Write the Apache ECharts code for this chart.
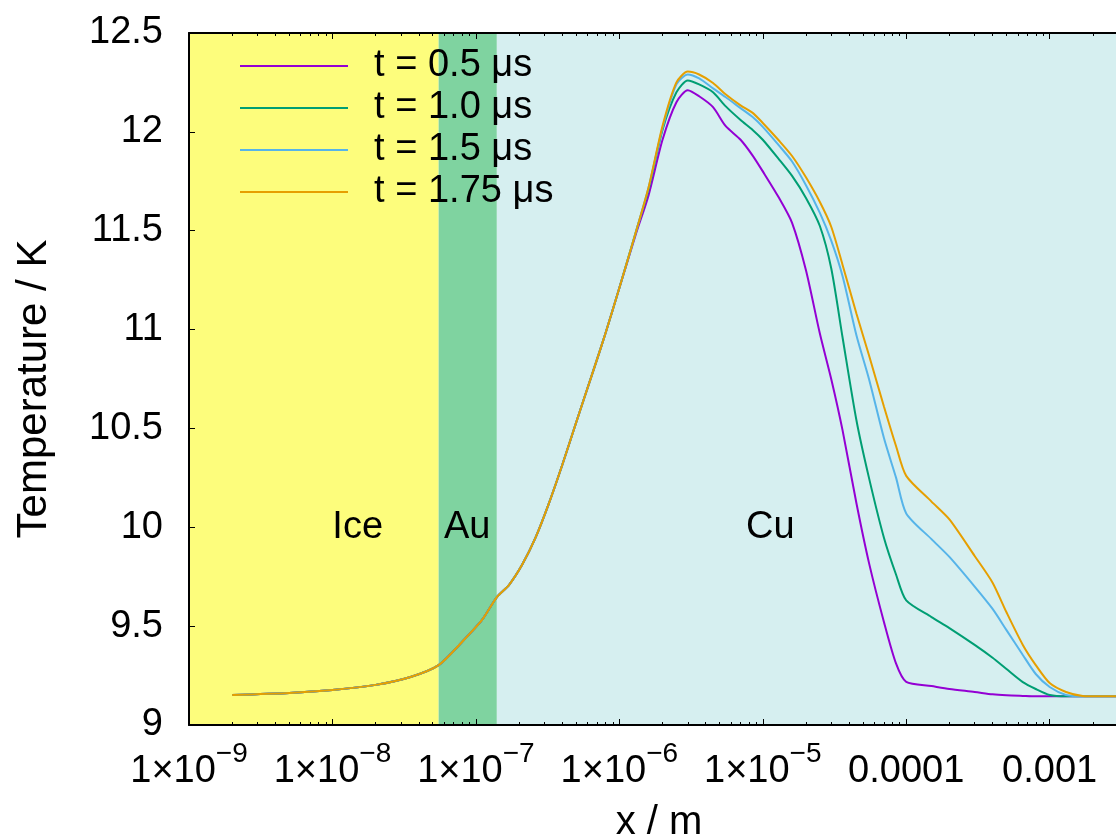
<!DOCTYPE html>
<html>
<head>
<meta charset="utf-8">
<title>Temperature profile</title>
<script src="https://cdn.jsdelivr.net/npm/echarts@6.0.0/dist/echarts.min.js"></script>
<style>
    html, body { margin: 0; padding: 0; background: #fff; }
    #chart { width: 1116px; height: 839px; }
</style>
</head>
<body>
<div id="chart"></div>
<script>
// position x / m (shared by all four profiles)
var xs = [2e-9, 5e-9, 1e-8, 2e-8, 3.5e-8, 5.5e-8, 8e-8, 1.1e-7, 1.4e-7, 1.7e-7,
    2.1e-7, 2.6e-7, 3.2e-7, 4e-7, 5e-7, 6.5e-7, 8e-7, 1e-6, 1.3e-6, 1.6e-6,
    2e-6, 2.5e-6, 3e-6, 3.6e-6, 4.5e-6, 5.5e-6, 7e-6, 8.5e-6, 1e-5, 1.3e-5,
    1.6e-5, 2e-5, 2.5e-5, 3e-5, 3.6e-5, 4.5e-5, 5.5e-5, 7e-5, 8.5e-5, 1e-4,
    1.5e-4, 2e-4, 3e-4, 4e-4, 5e-4, 6.5e-4, 8e-4, 1e-3, 1.3e-3, 1.7e-3,
    2.2e-3, 3e-3];

// temperature at xs
var t05 = [9.152, 9.162, 9.177, 9.203, 9.243, 9.303, 9.42, 9.53, 9.647, 9.708,
    9.81, 9.946, 10.113, 10.315, 10.53, 10.78, 10.98, 11.21, 11.48, 11.68,
    11.96, 12.15, 12.21, 12.18, 12.125, 12.03, 11.96, 11.88, 11.80, 11.665,
    11.54, 11.30, 10.98, 10.75, 10.49, 10.12, 9.82, 9.52, 9.31, 9.218,
    9.197, 9.182, 9.167, 9.155, 9.15, 9.147, 9.145, 9.145, 9.145, 9.145,
    9.145, 9.145];
var t10 = [9.152, 9.162, 9.177, 9.203, 9.243, 9.303, 9.42, 9.53, 9.647, 9.708,
    9.81, 9.946, 10.113, 10.315, 10.53, 10.78, 10.98, 11.21, 11.49, 11.71,
    12.01, 12.20, 12.26, 12.24, 12.20, 12.13, 12.06, 12.01, 11.96, 11.86,
    11.777, 11.666, 11.524, 11.31, 10.96, 10.54, 10.25, 9.946, 9.76, 9.63,
    9.546, 9.49, 9.405, 9.34, 9.283, 9.217, 9.182, 9.152, 9.145, 9.145,
    9.145, 9.145];
var t15 = [9.152, 9.162, 9.177, 9.203, 9.243, 9.303, 9.42, 9.53, 9.647, 9.708,
    9.81, 9.946, 10.113, 10.315, 10.53, 10.78, 10.98, 11.21, 11.49, 11.72,
    12.02, 12.24, 12.29, 12.27, 12.22, 12.176, 12.12, 12.075, 12.025, 11.93,
    11.85, 11.73, 11.59, 11.45, 11.27, 10.97, 10.75, 10.45, 10.25, 10.07,
    9.94, 9.85, 9.70, 9.587, 9.48, 9.354, 9.258, 9.192, 9.152, 9.145,
    9.145, 9.145];
var t175 = [9.152, 9.162, 9.177, 9.203, 9.243, 9.303, 9.42, 9.53, 9.647, 9.708,
    9.81, 9.946, 10.113, 10.315, 10.53, 10.78, 10.98, 11.21, 11.49, 11.72,
    12.03, 12.25, 12.305, 12.29, 12.247, 12.19, 12.134, 12.096, 12.045, 11.955,
    11.878, 11.77, 11.645, 11.52, 11.327, 11.08, 10.87, 10.61, 10.41, 10.26,
    10.13, 10.04, 9.855, 9.72, 9.57, 9.405, 9.303, 9.212, 9.167, 9.147,
    9.145, 9.145];

var names = ['t = 0.5 μs', 't = 1.0 μs', 't = 1.5 μs', 't = 1.75 μs'];

// material layers (x / m) and where their names sit
var layerNames = ['Ice', 'Au', 'Cu'];
var layerEdges = [1e-9, 5.5e-8, 1.4e-7, 2.9e-3];
var layerLabelX = [1.5e-8, 8.7e-8, 1.13e-5];
var layerLabelT = 10;

var lineColors = ['#9400d3', '#009e73', '#56b4e9', '#e69f00'];
var layerColors = ['#fdfd7c', '#7fd3a0', '#d6eff0'];
var font = 'Liberation Sans';

function xLabel(v) {
    var p = Math.log10(v), e = Math.round(p);
    if (Math.abs(p - e) > 1e-6) return '';
    if (e >= -4) return '{m|' + Math.pow(10, e).toFixed(-e) + '}';
    return '{m|1×10}{s|\u2212' + (-e) + '}';
}

var chart = echarts.init(document.getElementById('chart'));

var axisLine = {onZero: false, lineStyle: {color: '#000', width: 2}};
var axisTick = {show: true, inside: true, length: 6, lineStyle: {color: '#000', width: 1}};
var minorTick = {show: true, splitNumber: 9, length: 3, lineStyle: {color: '#000', width: 1}};

var series = [t05, t10, t15, t175].map(function (ys, k) {
    var s = {
        name: names[k],
        type: 'line',
        symbol: 'none',
        smooth: 0.25,
        color: lineColors[k],
        lineStyle: {width: 2, color: lineColors[k]},
        z: 3,
        data: xs.map(function (x, i) { return [x, ys[i]]; })
    };
    if (k === 0) {
        s.markArea = {
            silent: true,
            z: 1,
            data: layerNames.map(function (n, i) {
                return [
                    {xAxis: layerEdges[i], itemStyle: {color: layerColors[i], opacity: 1}},
                    {xAxis: layerEdges[i + 1]}
                ];
            })
        };
        s.markPoint = {
            silent: true,
            symbol: 'circle',
            symbolSize: 0,
            label: {
                show: true,
                position: 'inside',
                formatter: '{b}',
                color: '#000',
                fontSize: 38,
                fontFamily: font
            },
            data: layerNames.map(function (n, i) {
                return {name: n, coord: [layerLabelX[i], layerLabelT]};
            })
        };
    }
    return s;
});

var option = {
    animation: false,
    backgroundColor: '#fff',
    grid: {left: 189, top: 33, right: 0, bottom: 114, outerBoundsMode: 'none', containLabel: false},
    legend: {
        data: names,
        orient: 'vertical',
        left: 235,
        top: 42,
        icon: 'rect',
        itemWidth: 108,
        itemHeight: 2,
        itemGap: 4,
        selectedMode: false,
        formatter: function (n) { return '  ' + n; },
        textStyle: {fontSize: 38, fontFamily: font, color: '#000'}
    },
    xAxis: [
        {
            type: 'log',
            logBase: 10,
            z: 5,
            min: layerEdges[0],
            max: layerEdges[3],
            position: 'bottom',
            name: 'x / m',
            nameLocation: 'middle',
            nameGap: 78,
            nameTextStyle: {fontSize: 40, fontFamily: font, color: '#000', padding: [0, 0, 0, 13]},
            axisLine: axisLine,
            axisTick: axisTick,
            minorTick: minorTick,
            axisLabel: {
                margin: 15,
                formatter: xLabel,
                color: '#000',
                fontSize: 38,
                fontFamily: font,
                rich: {
                    m: {fontSize: 38, fontFamily: font, color: '#000', lineHeight: 51, verticalAlign: 'bottom'},
                    s: {fontSize: 28, fontFamily: font, color: '#000', lineHeight: 20, verticalAlign: 'top'}
                }
            },
            splitLine: {show: false}
        },
        {
            type: 'log',
            logBase: 10,
            z: 5,
            min: layerEdges[0],
            max: layerEdges[3],
            position: 'top',
            axisLine: axisLine,
            axisTick: axisTick,
            minorTick: minorTick,
            axisLabel: {show: false},
            splitLine: {show: false}
        }
    ],
    yAxis: {
        type: 'value',
        z: 5,
        min: 9,
        max: 12.5,
        interval: 0.5,
        name: 'Temperature / K',
        nameLocation: 'middle',
        nameGap: 134,
        nameTextStyle: {fontSize: 42, fontFamily: font, color: '#000', padding: [0, 20, 0, 0]},
        axisLine: {show: true, onZero: false, lineStyle: {color: '#000', width: 2}},
        axisTick: axisTick,
        axisLabel: {fontSize: 38, fontFamily: font, color: '#000', margin: 26},
        splitLine: {show: false}
    },
    series: series
};
chart.setOption(option);
</script>
</body>
</html>
